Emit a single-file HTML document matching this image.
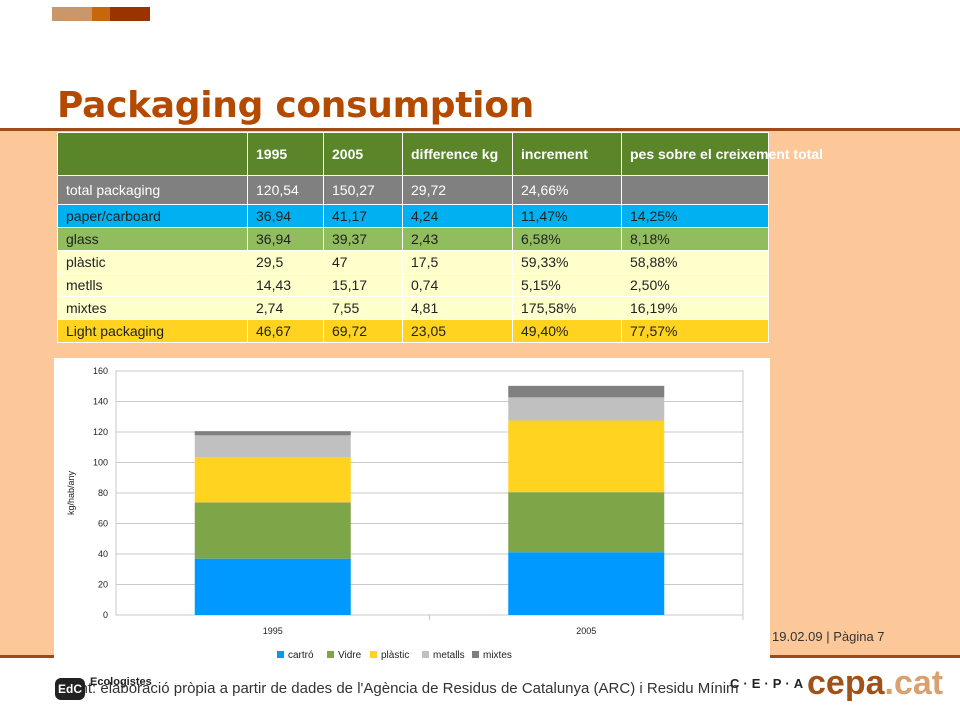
<!DOCTYPE html>
<html><head><meta charset="utf-8"><style>
body{margin:0;width:960px;height:720px;position:relative;overflow:hidden;background:#fff;font-family:"Liberation Sans",sans-serif}
.abs{position:absolute}
table{border-collapse:collapse;font-size:14px;table-layout:fixed}
td{border:1px solid #fff;padding:0 0 0 8px;color:#222;height:22px;white-space:nowrap;overflow:visible}
</style></head><body>
<div class="abs" style="left:52px;top:7px;width:40px;height:14px;background:#c9976a"></div>
<div class="abs" style="left:92px;top:7px;width:18px;height:14px;background:#c8660a"></div>
<div class="abs" style="left:110px;top:7px;width:40px;height:14px;background:#993300"></div>
<div class="abs" style="left:57px;top:85px;font-size:36px;font-weight:bold;color:#b34a00;font-family:'DejaVu Sans',sans-serif;letter-spacing:-0.3px">Packaging consumption</div>
<div class="abs" style="left:0;top:128px;width:960px;height:3px;background:#a04a1a"></div>
<div class="abs" style="left:0;top:131px;width:960px;height:525px;background:#fdc899"></div>
<div class="abs" style="left:0;top:655px;width:960px;height:3px;background:#a04a1a"></div>
<table class="abs" style="left:57px;top:132px;width:711px">
<colgroup><col style="width:190px"><col style="width:76px"><col style="width:79px"><col style="width:110px"><col style="width:109px"><col style="width:147px"></colgroup>
<tr style="background:#5a8528;color:#fff;font-weight:bold;height:43px"><td></td><td style="color:#fff">1995</td><td style="color:#fff">2005</td><td style="color:#fff">difference kg</td><td style="color:#fff">increment</td><td style="color:#fff">pes sobre el creixement total</td></tr>
<tr style="background:#808080;height:29px"><td style="color:#fff">total packaging</td><td style="color:#fff">120,54</td><td style="color:#fff">150,27</td><td style="color:#fff">29,72</td><td style="color:#fff">24,66%</td><td></td></tr>
<tr style="background:#00b0f0"><td>paper/carboard</td><td>36,94</td><td>41,17</td><td>4,24</td><td>11,47%</td><td>14,25%</td></tr>
<tr style="background:#92bd5e"><td>glass</td><td>36,94</td><td>39,37</td><td>2,43</td><td>6,58%</td><td>8,18%</td></tr>
<tr style="background:#ffffcc"><td>plàstic</td><td>29,5</td><td>47</td><td>17,5</td><td>59,33%</td><td>58,88%</td></tr>
<tr style="background:#ffffcc"><td>metlls</td><td>14,43</td><td>15,17</td><td>0,74</td><td>5,15%</td><td>2,50%</td></tr>
<tr style="background:#ffffcc"><td>mixtes</td><td>2,74</td><td>7,55</td><td>4,81</td><td>175,58%</td><td>16,19%</td></tr>
<tr style="background:#ffd320"><td>Light packaging</td><td>46,67</td><td>69,72</td><td>23,05</td><td>49,40%</td><td>77,57%</td></tr>
</table>
<div class="abs" style="left:772px;top:629px;font-size:13px;color:#333">19.02.09 | Pàgina 7</div>
<svg class="abs" style="left:0;top:0" width="960" height="720" id="chart"></svg>
<div class="abs" style="left:62px;top:680px;font-size:15px;color:#333">Font: elaboració pròpia a partir de dades de l'Agència de Residus de Catalunya (ARC) i Residu Mínim</div>
<div class="abs" style="left:55px;top:678px;width:30px;height:22px;background:#222;color:#fff;font-size:12px;font-weight:bold;text-align:center;line-height:22px;border-radius:6px">EdC</div>
<div class="abs" style="left:90px;top:676px;font-size:11px;font-weight:bold;color:#222">Ecologistes</div>
<div class="abs" style="left:730px;top:676px;font-size:13px;font-weight:bold;color:#222;letter-spacing:4px">C·E·P·A</div>
<div class="abs" style="left:807px;top:664px;font-size:34px;font-weight:bold;color:#a0521a">cepa<span style="color:#d9a070">.cat</span></div>
<script>
const categories=['1995','2005'];
const seriesNames=['cartró','Vidre','plàstic','metalls','mixtes'];
const cartro=[36.94,41.17];
const vidre=[36.94,39.37];
const plastic=[29.5,47];
const metalls=[14.43,15.17];
const mixtes=[2.74,7.55];
const yTicks=[0,20,40,60,80,100,120,140,160];
const colors=['#0099ff','#7ea648','#ffd320','#c0c0c0','#808080'];
const svg=document.getElementById('chart');const NS='http://www.w3.org/2000/svg';
function mk(t,a,p){const e=document.createElementNS(NS,t);for(const k in a)e.setAttribute(k,a[k]);(p||svg).appendChild(e);return e;}
const X0=116,X1=743,Y0=615,Y1=371;
const y=v=>Y0-(v/160)*(Y0-Y1);
const bw=(X1-X0)/categories.length;
const xc=i=>X0+bw*(i+0.5);
let bg=mk('rect',{x:54,y:358,width:716,height:307,fill:'#fff'});


yTicks.forEach(t=>{
 let g=mk('line',{x1:X0,x2:X1,y1:y(t),y2:y(t),stroke:'#c8c8c8','stroke-width':1});
 
 
 let l=mk('text',{x:X0-8,y:y(t)+3,'text-anchor':'end','font-size':9,fill:'#222','font-family':'Liberation Sans'});
 l.textContent=t;
 
 
});
let fr=mk('rect',{x:X0,y:Y1,width:X1-X0,height:Y0-Y1,fill:'none',stroke:'#c8c8c8'});


const series=[cartro,vidre,plastic,metalls,mixtes];
categories.forEach((c,i)=>{
 let acc=0;
 series.forEach((s,k)=>{
  const r=mk('rect',{x:xc(i)-78,y:y(acc+s[i]),width:156,height:y(acc)-y(acc+s[i]),fill:colors[k]});
  
  
  acc+=s[i];
 });
 let l=mk('text',{x:xc(i),y:Y0+19,'text-anchor':'middle','font-size':9,fill:'#222','font-family':'Liberation Sans'});
 l.textContent=c;
 
 
 let tk=mk('line',{x1:X0+bw*(i+1),x2:X0+bw*(i+1),y1:Y0,y2:Y0+5,stroke:'#c8c8c8'});
 
 
});
let yt=mk('text',{x:74,y:493,'text-anchor':'middle','font-size':9,fill:'#222',transform:'rotate(-90 74 493)','font-family':'Liberation Sans'});
yt.textContent='kg/hab/any';


let lx=277;
seriesNames.forEach((n,k)=>{
 let r=mk('rect',{x:lx,y:651,width:7,height:7,fill:colors[k]});
 
 
 let t=mk('text',{x:lx+11,y:658,'font-size':10,fill:'#222','font-family':'Liberation Sans'});
 t.textContent=n;
 
 
 lx+=[50,43,52,50,40][k];
});
</script>
</body></html>
